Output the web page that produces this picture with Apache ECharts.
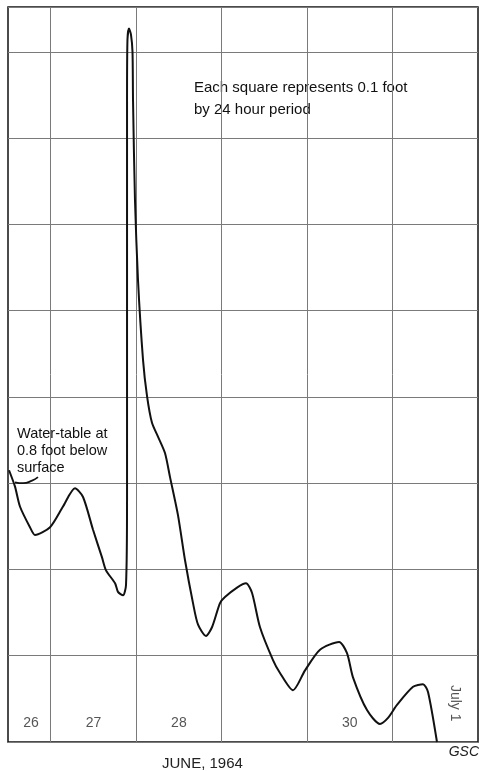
<!DOCTYPE html>
<html>
<head>
<meta charset="utf-8">
<script src="https://cdn.jsdelivr.net/npm/echarts@6/dist/echarts.min.js"></script>
<style>
  html, body { margin: 0; padding: 0; background: #fff; }
  #main { width: 479px; height: 771px; }
</style>
</head>
<body>
<div id="main"></div>
<script>
// hydrograph, June 26 - July 1 1964 (x = day of June, y = level in feet above chart bottom)
var hydroDays = [26.512, 26.582, 26.640, 26.757, 26.816, 26.992, 27.144, 27.284, 27.378, 27.495,
  27.600, 27.647, 27.753, 27.787, 27.846, 27.881, 27.893, 27.893, 27.898, 27.916,
  27.939, 27.957, 27.963, 27.986, 28.021, 28.080, 28.127, 28.185, 28.255, 28.337,
  28.396, 28.489, 28.571, 28.665, 28.724, 28.817, 28.887, 28.981, 29.039, 29.180,
  29.285, 29.355, 29.449, 29.601, 29.683, 29.835, 29.976, 30.151, 30.374, 30.467,
  30.537, 30.701, 30.853, 30.947, 31.052, 31.240, 31.357, 31.415, 31.520];
var hydroLevel = [0.315, 0.296, 0.273, 0.249, 0.240, 0.249, 0.273, 0.294, 0.284, 0.246,
  0.214, 0.199, 0.184, 0.174, 0.170, 0.182, 0.281, 0.744, 0.814, 0.827,
  0.820, 0.800, 0.744, 0.628, 0.536, 0.443, 0.401, 0.370, 0.354, 0.335,
  0.307, 0.263, 0.211, 0.161, 0.136, 0.123, 0.133, 0.161, 0.168, 0.179,
  0.184, 0.173, 0.133, 0.095, 0.080, 0.060, 0.083, 0.107, 0.116, 0.103,
  0.075, 0.037, 0.021, 0.028, 0.043, 0.064, 0.067, 0.058, 0.000];

// small leader line from the start of the curve to the note
var leaderDays = [26.582, 26.676, 26.781, 26.851];
var leaderLevel = [0.301, 0.300, 0.303, 0.307];

var dayLines = [27, 28, 29, 30, 31];
var dayLabels = ['26', '27', '28', '30'];
var dayLabelX = [26.77, 27.5, 28.5, 30.5];
var julyLabel = 'July 1';
var julyLabelX = 31.73;

var font = '"Liberation Sans", Arial, sans-serif';

function pairs(xs, ys) {
  var out = [];
  for (var i = 0; i < xs.length; i++) out.push([xs[i], ys[i]]);
  return out;
}

var myChart = echarts.init(document.getElementById('main'));
var option = {
  backgroundColor: '#fff',
  animation: false,
  grid: {
    left: 8, right: 1, top: 7, bottom: 29,
    show: true,
    borderColor: '#111',
    borderWidth: 1.5,
    backgroundColor: 'transparent'
  },
  xAxis: {
    type: 'value',
    min: 26.5,
    max: 32,
    axisLine: { show: false },
    axisTick: { show: false },
    axisLabel: { show: false },
    splitLine: { show: false }
  },
  yAxis: {
    type: 'value',
    min: 0,
    max: 0.852,
    interval: 0.1,
    axisLine: { show: false },
    axisTick: { show: false },
    axisLabel: { show: false },
    splitLine: { show: true, lineStyle: { color: '#7a7a7a', width: 1 } }
  },
  series: [
    {
      // vertical day lines
      type: 'line',
      data: [],
      z: 1,
      silent: true,
      markLine: {
        silent: true,
        symbol: 'none',
        label: { show: false },
        lineStyle: { color: '#7a7a7a', width: 1, type: 'solid' },
        data: dayLines.map(function (d) { return { xAxis: d }; })
      }
    },
    {
      name: 'water table',
      type: 'line',
      data: pairs(hydroDays, hydroLevel),
      smooth: 0.25,
      symbol: 'none',
      z: 5,
      lineStyle: { color: '#111', width: 2 }
    },
    {
      type: 'line',
      data: pairs(leaderDays, leaderLevel),
      smooth: 0.5,
      symbol: 'none',
      z: 5,
      lineStyle: { color: '#111', width: 1.8 }
    },
    {
      type: 'scatter',
      symbolSize: 0,
      z: 6,
      data: dayLabelX.map(function (d, i) { return { value: [d, 0.022], name: dayLabels[i] }; }),
      label: {
        show: true,
        position: 'inside',
        formatter: '{b}',
        color: '#2a2a2a',
        fontSize: 14,
        fontFamily: font
      }
    },
    {
      type: 'scatter',
      symbolSize: 0,
      z: 6,
      data: [{ value: [julyLabelX, 0.045], name: julyLabel }],
      label: {
        show: true,
        position: 'inside',
        formatter: '{b}',
        rotate: -90,
        color: '#2a2a2a',
        fontSize: 14,
        fontFamily: font
      }
    }
  ],
  graphic: [
    {
      type: 'text', left: 194, top: 77,
      style: {
        text: 'Each square represents 0.1 foot\nby 24 hour period',
        font: '15px ' + font,
        fill: '#111',
        lineHeight: 22
      }
    },
    {
      type: 'text', left: 17, top: 425,
      style: {
        text: 'Water-table at\n0.8 foot below\nsurface',
        font: '14.5px ' + font,
        fill: '#111',
        lineHeight: 17
      },
      z: 10
    },
    {
      type: 'text', left: 162, top: 756,
      style: { text: 'JUNE, 1964', font: '15px ' + font, fill: '#222' }
    },
    {
      type: 'text', right: 0, top: 745,
      style: { text: 'GSC', font: 'italic 14px ' + font, fill: '#222' }
    }
  ]
};

option && myChart.setOption(option);
</script>
</body>
</html>
